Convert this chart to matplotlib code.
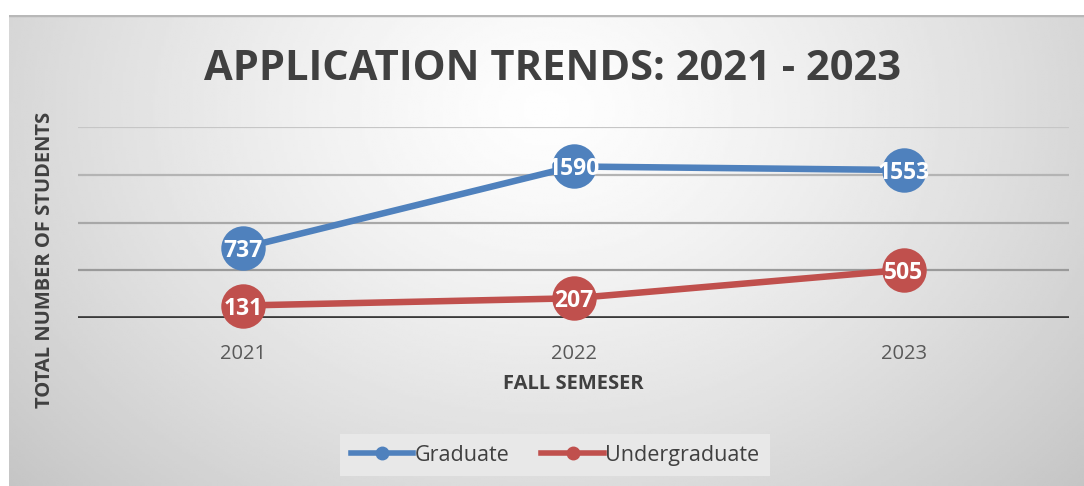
import numpy as np
import matplotlib
matplotlib.use("Agg")
import matplotlib.pyplot as plt
from matplotlib.lines import Line2D

# Data
years = ["2021", "2022", "2023"]
graduate = [737, 1590, 1553]
undergraduate = [131, 207, 505]
series_names = ["Graduate", "Undergraduate"]
colors = ["#4F81BD", "#C0504D"]

plt.rcParams["font.family"] = ["Open Sans", "DejaVu Sans"]

W, H = 1084, 486
fig = plt.figure(figsize=(W / 100, H / 100), dpi=100)
fig.patch.set_facecolor("white")

# chart area background: radial gradient, light centre near the title
bg = fig.add_axes([9 / W, 0, 1 - 9 / W, (H - 15) / H])
bg.set_axis_off()
gx, gy = np.meshgrid(np.linspace(0, 1, 400), np.linspace(0, 1, 200))
dist = np.sqrt(((gx - 0.5) / 0.62) ** 2 + ((gy - 0.2) / 1.1) ** 2)
shade = np.clip(0.995 - 0.2 * dist ** 1.3, 0, 1)
bg.imshow(shade, cmap="gray", vmin=0, vmax=1, aspect="auto",
          extent=[0, 1, 0, 1], origin="upper")
bg.set_xlim(0, 1)
bg.set_ylim(0, 1)
bg.axhline(1, color="#b8b8b8", lw=2.5)

# plot area
ax = fig.add_axes([78 / W, (H - 318) / H, (1069 - 78) / W, (318 - 127.4) / H])
ax.patch.set_alpha(0)
x = np.arange(len(years))
ax.set_xlim(-0.5, len(years) - 0.5)
ax.set_ylim(0, 2000)
for v, c in zip([500, 1000, 1500, 2000], ["#9a9a9a", "#a8a8a8", "#b4b4b4", "#c6c6c6"]):
    ax.axhline(v, color=c, lw=1.6, zorder=1)
ax.axhline(0, color="#3a3a3a", lw=3.4, zorder=2)
for s in ax.spines.values():
    s.set_visible(False)
ax.set_yticks([])
ax.set_xticks(x)
ax.set_xticklabels(years, fontsize=14.5, color="#595959")
ax.tick_params(axis="x", length=0, pad=19)

for vals, c, name in zip([graduate, undergraduate], colors, series_names):
    ax.plot(x, vals, color=c, lw=4.7, marker="o", markersize=32,
            markeredgewidth=0, zorder=3, clip_on=False, label=name)
    for xi, v in zip(x, vals):
        ax.text(xi, v, str(v), ha="center", va="center_baseline", color="white",
                fontsize=16.5, fontweight="bold", zorder=4)

fig.text(553 / W, 1 - 70 / H, "APPLICATION TRENDS: 2021 - 2023",
         ha="center", va="center", fontsize=30, fontweight="bold", color="#404040")
fig.text(573 / W, 1 - 384 / H, "FALL SEMESER", ha="center", va="center",
         fontsize=14.5, fontweight="bold", color="#404040")
fig.text(45 / W, 1 - 260 / H, "TOTAL NUMBER OF STUDENTS", ha="center", va="center",
         rotation=90, fontsize=14.5, fontweight="bold", color="#404040")

handles = [Line2D([], [], color=c, lw=4, marker="o", markersize=9) for c in colors]
leg = fig.legend(handles, series_names, loc="center", bbox_to_anchor=(555 / W, 1 - 455 / H),
                 ncol=2, frameon=True, fontsize=15.5, handlelength=2.9, handletextpad=0.05,
                 columnspacing=1.5, borderpad=0.5, fancybox=False)
leg.get_frame().set_facecolor("#e8e8e8")
leg.get_frame().set_edgecolor("none")
leg.get_frame().set_alpha(1)
for t in leg.get_texts():
    t.set_color("#404040")

fig.savefig("out.png", dpi=100)
